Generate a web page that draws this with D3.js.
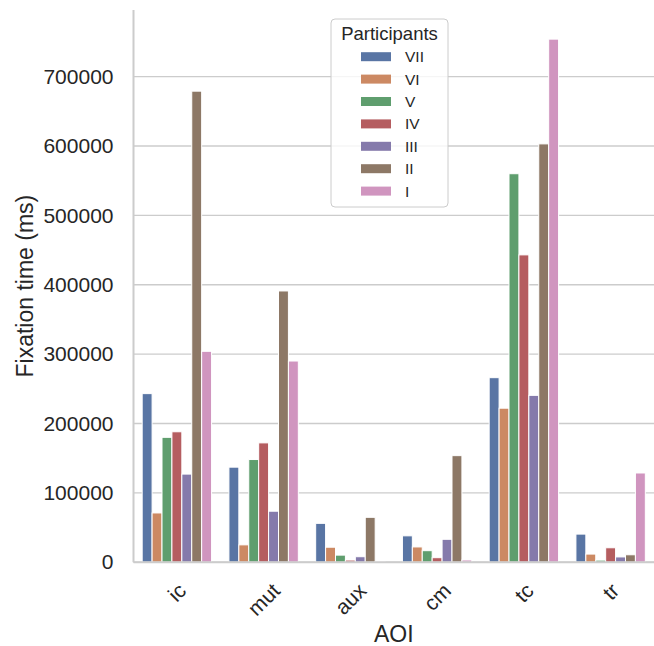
<!DOCTYPE html>
<html>
<head>
<meta charset="utf-8">
<script src="https://cdn.jsdelivr.net/npm/d3@7/dist/d3.min.js"></script>
<style>
  html, body { margin: 0; padding: 0; background: #ffffff; }
  svg { display: block; font-family: "Liberation Sans", Arial, sans-serif; }
</style>
</head>
<body>
<svg id="chart" width="654" height="646"></svg>
<script>
// Areas of interest on the x axis
const categories = ["ic", "mut", "aux", "cm", "tc", "tr"];
// Participants, in legend order
const participants = ["VII", "VI", "V", "IV", "III", "II", "I"];

// Fixation time (ms) per participant, one value per AOI
const seriesVII = [243000, 137000, 56000, 38000, 266000, 40500];
const seriesVI  = [71000, 25000, 21600, 22000, 222000, 11700];
const seriesV   = [180000, 148000, 10200, 16600, 560000, 3000];
const seriesIV  = [188000, 172000, 3100, 6500, 443000, 20800];
const seriesIII = [127000, 73500, 7900, 33000, 240500, 7600];
const seriesII  = [679000, 391000, 64700, 153600, 603000, 10700];
const seriesI   = [304000, 290000, 800, 3200, 754000, 128600];

const yTicks = [0, 100000, 200000, 300000, 400000, 500000, 600000, 700000];

const seriesValues = [seriesVII, seriesVI, seriesV, seriesIV, seriesIII, seriesII, seriesI];
const colors = ["#5975a4", "#cc8963", "#5f9e6e", "#b55d60", "#857aab", "#8d7866", "#d095bf"];

const rows = [];
participants.forEach((p, i) => {
  categories.forEach((c, j) => rows.push({ participant: p, aoi: c, value: seriesValues[i][j] }));
});

const svg = d3.select("#chart");
const textColor = "#262626";
const gridColor = "#cccccc";
const fontFamily = "'Liberation Sans', Arial, sans-serif";

const plotLeft = 133.5, plotRight = 654, plotTop = 10, plotBottom = 562.2;

const x = d3.scaleBand().domain(categories).range([plotLeft, plotRight]).paddingInner(0).paddingOuter(0);
const inner = d3.scaleBand().domain(participants)
  .range([x.bandwidth() * 0.1, x.bandwidth() * 0.9]).paddingInner(0).paddingOuter(0);
const y = d3.scaleLinear().domain([0, 796000]).range([plotBottom, plotTop]);
const color = d3.scaleOrdinal().domain(participants).range(colors);

// Horizontal grid lines
svg.append("g")
  .selectAll("line")
  .data(yTicks)
  .join("line")
  .attr("x1", plotLeft).attr("x2", plotRight)
  .attr("y1", d => y(d)).attr("y2", d => y(d))
  .attr("stroke", gridColor)
  .attr("stroke-width", 1.4);

// Bars
svg.append("g")
  .selectAll("rect")
  .data(rows)
  .join("rect")
  .attr("x", d => x(d.aoi) + inner(d.participant))
  .attr("width", inner.bandwidth())
  .attr("y", d => y(d.value))
  .attr("height", d => y(0) - y(d.value))
  .attr("fill", d => color(d.participant))
  .attr("stroke", "#ffffff")
  .attr("stroke-width", 1);

// Y axis (labels only, no tick marks)
const yAxis = svg.append("g")
  .attr("transform", `translate(${plotLeft},0)`)
  .call(d3.axisLeft(y).tickValues(yTicks).tickSize(0).tickPadding(20).tickFormat(d3.format("d")));
yAxis.select(".domain").remove();
yAxis.selectAll("text")
  .attr("fill", textColor)
  .style("font-size", "21px")
  .style("font-family", fontFamily);

// X axis (labels rotated by 45 degrees, bounding box centred under each band)
const xAxis = svg.append("g")
  .attr("transform", `translate(0,${plotBottom})`)
  .call(d3.axisBottom(x).tickSize(0).tickPadding(0));
xAxis.select(".domain").remove();
xAxis.selectAll("text")
  .attr("fill", textColor)
  .style("font-size", "21px")
  .style("font-family", fontFamily)
  .attr("text-anchor", "middle")
  .attr("dy", null)
  .attr("dominant-baseline", "central")
  .each(function () {
    const w = this.getComputedTextLength();
    const h = 16;
    const half = (w + h) * Math.SQRT1_2 / 2;
    d3.select(this).attr("y", 0).attr("transform", `translate(0,${19 + half}) rotate(-45)`);
  });

// Spines
svg.append("line")
  .attr("x1", plotLeft).attr("x2", plotLeft).attr("y1", plotTop).attr("y2", plotBottom)
  .attr("stroke", gridColor).attr("stroke-width", 2);
svg.append("line")
  .attr("x1", plotLeft).attr("x2", plotRight).attr("y1", plotBottom).attr("y2", plotBottom)
  .attr("stroke", gridColor).attr("stroke-width", 2);

// Axis titles
svg.append("text")
  .attr("x", (plotLeft + plotRight) / 2)
  .attr("y", 634)
  .attr("text-anchor", "middle")
  .attr("dominant-baseline", "central")
  .attr("fill", textColor)
  .style("font-size", "23px")
  .text("AOI");

svg.append("text")
  .attr("transform", `translate(25,${(plotTop + plotBottom) / 2}) rotate(-90)`)
  .attr("text-anchor", "middle")
  .attr("dominant-baseline", "central")
  .attr("fill", textColor)
  .style("font-size", "23px")
  .text("Fixation time (ms)");

// Legend
const legend = svg.append("g").attr("transform", "translate(331,19)");
legend.append("rect")
  .attr("x", 0).attr("y", 0).attr("width", 117).attr("height", 188)
  .attr("rx", 4).attr("ry", 4)
  .attr("fill", "#ffffff").attr("fill-opacity", 0.8)
  .attr("stroke", "#cccccc").attr("stroke-width", 1);
legend.append("text")
  .attr("x", 58.5).attr("y", 14.3)
  .attr("text-anchor", "middle")
  .attr("dominant-baseline", "central")
  .attr("fill", textColor)
  .style("font-size", "18.5px")
  .text("Participants");
const items = legend.selectAll("g.item")
  .data(participants)
  .join("g")
  .attr("class", "item")
  .attr("transform", (d, i) => `translate(0,${37.7 + i * 22.4})`);
items.append("rect")
  .attr("x", 30).attr("y", -4.5).attr("width", 30).attr("height", 9)
  .attr("fill", d => color(d));
items.append("text")
  .attr("x", 74).attr("y", 0)
  .attr("dominant-baseline", "central")
  .attr("fill", textColor)
  .style("font-size", "15.5px")
  .text(d => d);
</script>
</body>
</html>
